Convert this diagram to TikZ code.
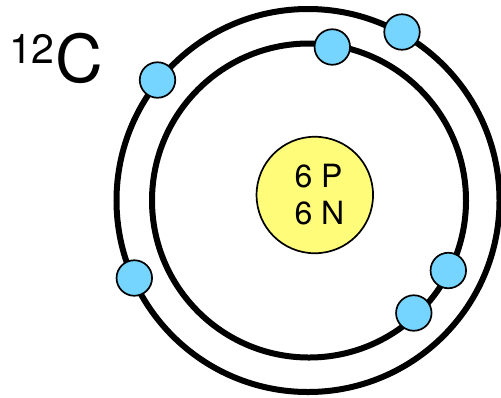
\documentclass[tikz,border=0pt]{standalone}
\usepackage{fontspec}
\setmainfont{TeX Gyre Heros}
\definecolor{electron}{HTML}{75D5FF}
\definecolor{nucleus}{HTML}{FFFC79}
\tikzset{
  ring/.style={circle,draw=black,line width=6bp,fill=none,inner sep=0pt,outer sep=0pt},
  electronball/.style={circle,draw=black,line width=1.7bp,fill=electron,inner sep=0pt,outer sep=0pt,minimum size=35.5bp},
  core/.style={circle,draw=black,line width=1.7bp,fill=nucleus,inner sep=0pt,outer sep=0pt,minimum size=116.5bp},
  coretext/.style={inner sep=0pt,outer sep=0pt,anchor=base west,font=\fontsize{32bp}{32bp}\selectfont},
  element/.style={inner sep=0pt,outer sep=0pt,anchor=base west}
}
\begin{document}
\begin{tikzpicture}[x=1bp,y=-1bp]
\useasboundingbox (0,0) rectangle (501,397);
\node[ring,minimum size=383bp] (outer) at (308,200.5) {};
\node[ring,minimum size=314bp] (inner) at (309,200.5) {};
\node[core] (core) at (314.8,195) {};
\node[coretext] (protons) at (294.5,187.5) {6 P};
\node[coretext] (neutrons) at (294.5,224.5) {6 N};
\node[electronball] (e1) at (157.5,80) {};
\node[electronball] (e2) at (332.3,47) {};
\node[electronball] (e3) at (402,32) {};
\node[electronball] (e4) at (448.3,270.5) {};
\node[electronball] (e5) at (413.8,313) {};
\node[electronball] (e6) at (134.3,278) {};
\node[element,font=\fontsize{41bp}{41bp}\selectfont] (mass) at (9,63) {12};
\node[element,font=\fontsize{66bp}{66bp}\selectfont] (symbol) at (55.5,82.5) {C};
\end{tikzpicture}
\end{document}
